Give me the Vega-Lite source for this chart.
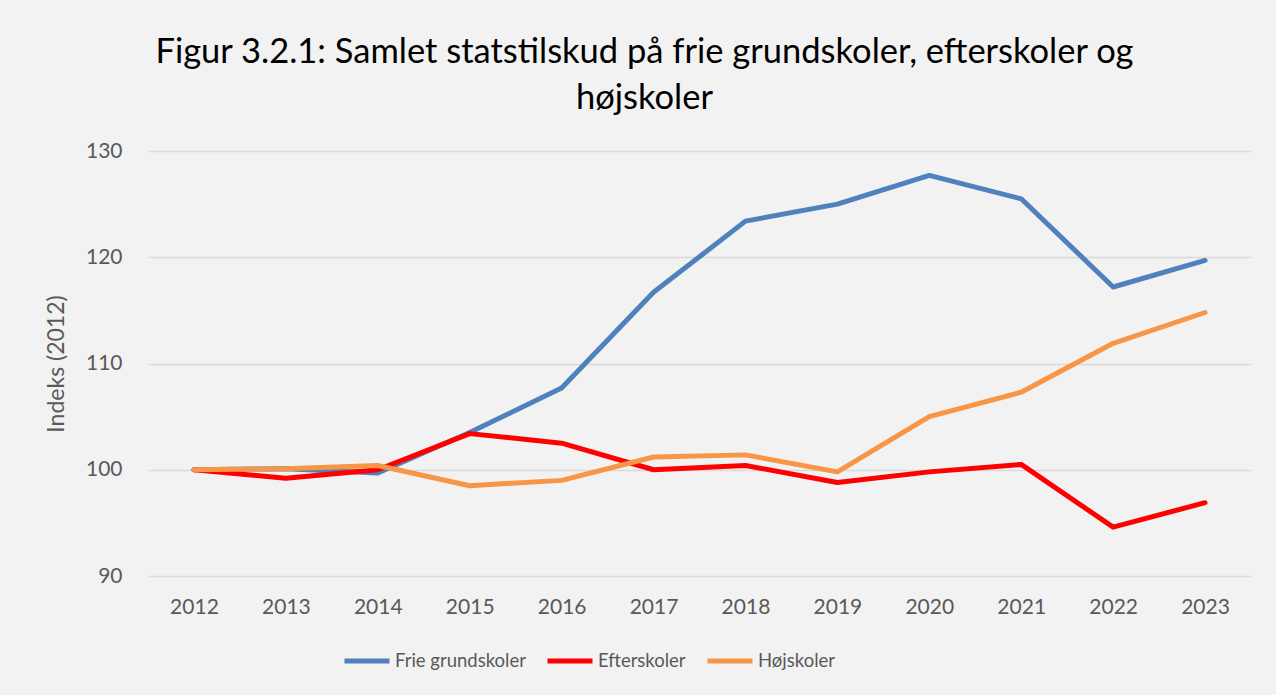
{
  "$schema": "https://vega.github.io/schema/vega-lite/v6.json",
  "autosize": {"type": "none"},
  "width": 1103,
  "height": 425,
  "padding": {"left": 148, "top": 151, "right": 25, "bottom": 119},
  "background": "#F2F2F2",
  "config": {
    "font": "Lato",
    "view": {"stroke": null},
    "title": {"font": "Lato", "fontSize": 34.5, "fontWeight": "normal", "color": "#000000", "lineHeight": 46}
  },
  "title": {
    "text": ["Figur 3.2.1: Samlet statstilskud på frie grundskoler, efterskoler og", "højskoler"],
    "anchor": "middle",
    "frame": "group",
    "dx": -55,
    "offset": 24
  },
  "data": {
    "values": [
      {"year": "2012", "series": "Frie grundskoler", "value": 100},
      {"year": "2013", "series": "Frie grundskoler", "value": 100.1},
      {"year": "2014", "series": "Frie grundskoler", "value": 99.7},
      {"year": "2015", "series": "Frie grundskoler", "value": 103.5},
      {"year": "2016", "series": "Frie grundskoler", "value": 107.7},
      {"year": "2017", "series": "Frie grundskoler", "value": 116.7},
      {"year": "2018", "series": "Frie grundskoler", "value": 123.4},
      {"year": "2019", "series": "Frie grundskoler", "value": 125.0},
      {"year": "2020", "series": "Frie grundskoler", "value": 127.7},
      {"year": "2021", "series": "Frie grundskoler", "value": 125.5},
      {"year": "2022", "series": "Frie grundskoler", "value": 117.2},
      {"year": "2023", "series": "Frie grundskoler", "value": 119.7},
      {"year": "2012", "series": "Efterskoler", "value": 100},
      {"year": "2013", "series": "Efterskoler", "value": 99.2},
      {"year": "2014", "series": "Efterskoler", "value": 100.0},
      {"year": "2015", "series": "Efterskoler", "value": 103.4},
      {"year": "2016", "series": "Efterskoler", "value": 102.5},
      {"year": "2017", "series": "Efterskoler", "value": 100.0},
      {"year": "2018", "series": "Efterskoler", "value": 100.4},
      {"year": "2019", "series": "Efterskoler", "value": 98.8},
      {"year": "2020", "series": "Efterskoler", "value": 99.8},
      {"year": "2021", "series": "Efterskoler", "value": 100.5},
      {"year": "2022", "series": "Efterskoler", "value": 94.6},
      {"year": "2023", "series": "Efterskoler", "value": 96.9},
      {"year": "2012", "series": "Højskoler", "value": 100},
      {"year": "2013", "series": "Højskoler", "value": 100.1},
      {"year": "2014", "series": "Højskoler", "value": 100.4},
      {"year": "2015", "series": "Højskoler", "value": 98.5},
      {"year": "2016", "series": "Højskoler", "value": 99.0},
      {"year": "2017", "series": "Højskoler", "value": 101.2},
      {"year": "2018", "series": "Højskoler", "value": 101.4},
      {"year": "2019", "series": "Højskoler", "value": 99.8},
      {"year": "2020", "series": "Højskoler", "value": 105.0},
      {"year": "2021", "series": "Højskoler", "value": 107.3},
      {"year": "2022", "series": "Højskoler", "value": 111.9},
      {"year": "2023", "series": "Højskoler", "value": 114.8}
    ]
  },
  "mark": {"type": "line", "strokeWidth": 5, "strokeCap": "round", "strokeJoin": "round"},
  "encoding": {
    "x": {
      "field": "year",
      "type": "ordinal",
      "scale": {"type": "point", "padding": 0.5},
      "axis": {
        "title": null,
        "labelAngle": 0,
        "labelFont": "Lato",
        "labelFontSize": 21,
        "labelColor": "#595959",
        "labelPadding": 20,
        "ticks": false,
        "domain": false,
        "grid": false
      }
    },
    "y": {
      "field": "value",
      "type": "quantitative",
      "scale": {"domain": [90, 130], "nice": false, "zero": false},
      "axis": {
        "title": "Indeks (2012)",
        "titleFont": "Lato",
        "titleFontSize": 23,
        "titleFontWeight": "normal",
        "titleColor": "#595959",
        "titlePadding": 17,
        "values": [90, 100, 110, 120, 130],
        "labelFont": "Lato",
        "labelFontSize": 21,
        "labelColor": "#595959",
        "labelPadding": 26,
        "ticks": false,
        "domain": false,
        "grid": true,
        "gridColor": "#D9D9D9",
        "gridWidth": 1.5
      }
    },
    "color": {
      "field": "series",
      "type": "nominal",
      "sort": ["Frie grundskoler", "Efterskoler", "Højskoler"],
      "scale": {
        "domain": ["Frie grundskoler", "Efterskoler", "Højskoler"],
        "range": ["#4F81BD", "#FF0000", "#F79646"]
      },
      "legend": {
        "title": null,
        "orient": "none",
        "direction": "horizontal",
        "legendX": 194,
        "legendY": 485,
        "padding": 0,
        "symbolType": "stroke",
        "symbolSize": 2025,
        "symbolStrokeWidth": 5,
        "labelFont": "Lato",
        "labelFontSize": 18.5,
        "labelColor": "#595959",
        "labelOffset": 3,
        "columnPadding": 11
      }
    }
  }
}
